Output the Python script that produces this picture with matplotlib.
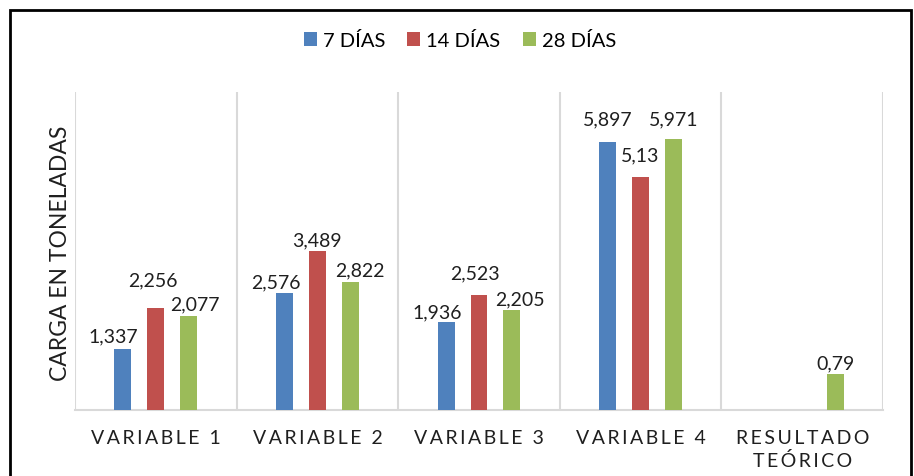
import numpy as np
import matplotlib
matplotlib.use('Agg')
import matplotlib.pyplot as plt
from matplotlib.patches import Rectangle

# data
categories = ["VARIABLE 1", "VARIABLE 2", "VARIABLE 3", "VARIABLE 4", "RESULTADO\nTEÓRICO"]
series_names = ["7 DÍAS", "14 DÍAS", "28 DÍAS"]
dias_7 = [1.337, 2.576, 1.936, 5.897, np.nan]
dias_14 = [2.256, 3.489, 2.523, 5.13, np.nan]
dias_28 = [2.077, 2.822, 2.205, 5.971, 0.79]

colors = ["#4F81BD", "#C0504D", "#9BBB59"]
FONT = ["Lato", "DejaVu Sans"]
plt.rcParams['font.family'] = FONT
TXT = '#1f1f1f'

# label nudges in pixels (dx, dy above bar top), mimicking the Excel layout
label_nudge = [
    [(-10, 13), (-9, 11), (-9, 10), (0, 23), (0, 0)],
    [(-3, 28), (0, 12), (-4, 23), (0, 22), (0, 0)],
    [(6, 12), (10, 12), (8, 11), (0, 20), (0, 11)],
]


def fmt(v):
    s = f"{v:.3f}".rstrip('0').rstrip('.')
    return s.replace('.', ',')


def spaced(txt):
    # crude letter spacing using thin spaces
    return "\n".join("\u2009".join(list(line)) for line in txt.split("\n"))


fig = plt.figure(figsize=(9.14, 4.77), dpi=100)
ax = fig.add_axes([75 / 914, 1 - 411 / 477, (883 - 75) / 914, (411 - 93) / 477])

x = np.arange(len(categories))
step = 0.204
width = 0.105
all_series = [dias_7, dias_14, dias_28]
for i, (vals, name, c) in enumerate(zip(all_series, series_names, colors)):
    pos = x + (i - 1) * step
    ax.bar(pos, vals, width=width, color=c, label=name, zorder=3)
    for j, v in enumerate(vals):
        if np.isnan(v):
            continue
        dx, dy = label_nudge[i][j]
        ax.annotate(fmt(v), (pos[j], v), xytext=(dx * 0.72, dy * 0.72),
                    textcoords='offset points', ha='center', va='center',
                    fontsize=14, color=TXT, zorder=4)

ax.set_xlim(-0.5, len(categories) - 0.5)
ax.set_ylim(0, 7)
ax.set_yticks([])
ax.set_xticks(x)
ax.set_xticklabels([spaced(c) for c in categories], fontsize=14, color=TXT,
                   linespacing=1.3)
ax.tick_params(axis='x', length=0, pad=14)
for b in np.arange(len(categories) + 1) - 0.5:
    ax.axvline(b, color='#D9D9D9', lw=1.5, zorder=1)
for s in ['top', 'right', 'left']:
    ax.spines[s].set_visible(False)
ax.spines['bottom'].set_color('#D9D9D9')
ax.spines['bottom'].set_linewidth(1.5)
ax.spines['bottom'].set_zorder(2)

ax.set_ylabel("CARGA EN TONELADAS", fontsize=16.5, color=TXT)
ax.yaxis.set_label_coords(-0.005, 0.495)

fig.legend(loc='center', bbox_to_anchor=(0.503, 1 - 41 / 477), ncol=3, frameon=False,
           fontsize=14.5, handlelength=0.65, handleheight=0.65, handletextpad=0.3,
           columnspacing=1.1)

# outer chart frame (open at the bottom like the cropped reference)
fig.patches.append(Rectangle((10 / 914, -0.1), (911 - 10) / 914, 1.1 - 11 / 477,
                             transform=fig.transFigure, fill=False, edgecolor='black',
                             linewidth=2, clip_on=False))

fig.savefig("out.png", dpi=100)
